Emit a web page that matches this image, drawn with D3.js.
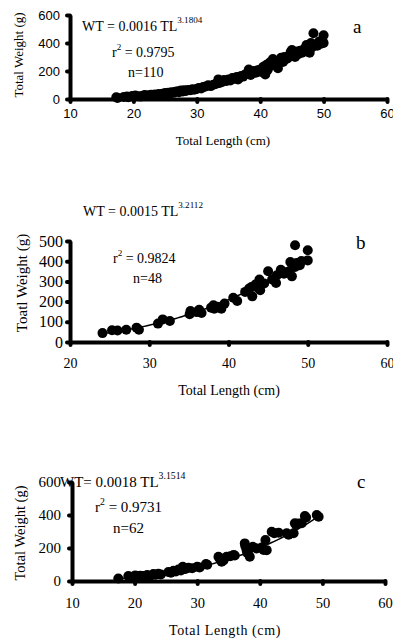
<!DOCTYPE html>
<html>
<head>
<meta charset="utf-8">
<script src="https://cdn.jsdelivr.net/npm/d3@7"></script>
<style>
  body { margin: 0; background: #fff; }
  svg { display: block; }
  text { fill: #000; }
</style>
</head>
<body>
<div id="chart"></div>
<script>
// panel a
const lengthA = [17.3,17.5,18.5,19.0,19.2,19.8,20.0,20.3,20.8,21.2,
  21.5,21.8,22.0,22.4,22.8,23.0,23.4,23.8,24.0,24.3,
  24.6,25.0,25.2,25.5,25.8,26.0,26.3,26.6,27.0,27.2,
  27.5,27.8,28.0,28.3,28.6,29.0,29.3,29.6,30.0,30.3,
  30.7,31.0,31.4,31.8,32.2,32.6,33.0,33.4,33.6,34.0,
  34.3,34.7,35.0,35.3,35.6,36.0,36.3,36.7,37.0,37.3,
  37.6,38.0,38.2,38.5,38.7,39.0,39.3,39.6,40.0,40.2,
  40.5,40.8,41.0,41.2,41.5,41.8,42.0,42.3,42.6,42.8,
  43.0,43.3,43.6,43.8,44.0,44.3,44.6,45.0,45.2,45.5,
  45.8,46.0,46.3,46.6,47.0,47.3,47.5,47.8,48.0,48.2,
  48.4,48.6,49.0,49.3,49.6,50.0,50.0,49.8,44.8,36.5];
const weightA = [12,8,15,18,12,22,16,25,20,18,
  24,28,22,26,30,25,32,28,35,30,
  38,42,36,45,40,48,44,52,55,48,
  60,54,62,58,65,62,70,66,72,78,
  75,85,90,98,92,102,108,140,115,122,
  135,128,140,132,150,145,158,152,165,160,
  175,182,210,172,195,200,188,205,195,215,
  230,175,245,210,260,240,285,270,250,220,
  275,295,265,300,285,290,310,350,325,300,
  340,320,345,330,360,385,355,330,400,370,
  470,390,380,410,395,455,400,420,335,140];

// panel b
const lengthB = [24.1,25.3,26.0,27.1,28.4,28.7,31.1,31.7,32.6,37.8,
  35.1,35.2,36.0,36.3,36.6,38.1,38.2,38.6,39.1,39.5,
  40.6,41.1,42.1,42.6,42.9,43.0,43.4,43.7,43.9,44.0,
  44.5,45.0,45.5,46.0,46.1,46.6,47.0,47.2,47.7,48.0,
  47.8,48.4,48.6,49.0,49.2,48.4,50.0,50.0];
const weightB = [44,58,57,61,71,61,91,112,104,170,
  137,153,148,160,144,182,165,175,165,190,
  219,203,248,265,272,226,285,269,309,256,
  290,350,309,292,330,358,338,345,351,325,
  396,479,391,380,401,371,404,454];

// panel c
const lengthC = [17.4,19.0,19.5,20.1,20.5,20.9,21.4,22.0,22.5,23.0,
  23.3,23.8,24.2,25.4,25.8,26.2,26.6,27.0,27.4,27.7,
  28.2,28.6,29.2,30.0,30.4,31.4,31.6,33.4,33.6,33.9,
  34.7,35.3,35.8,36.0,37.6,37.7,37.9,38.2,38.4,38.9,
  39.5,40.3,40.6,40.9,41.1,41.9,42.3,43.0,44.3,44.6,
  45.4,45.6,45.8,46.2,46.7,47.2,47.4,49.1,49.4,38.0,34.2,27.9];
const weightC = [15,30,25,34,28,32,30,36,32,42,
  38,44,40,55,50,62,58,70,64,86,
  75,80,78,86,82,103,98,147,135,117,
  147,150,157,155,228,210,187,188,147,207,
  197,203,188,248,187,299,290,293,289,280,
  289,350,340,348,350,394,385,400,389,170,125,72];

// fitted equations WT = a * TL^b
const coefA = [0.0016, 3.1804];
const coefB = [0.0015, 3.2112];
const coefC = [0.0018, 3.1514];

const ticksXA = [10, 20, 30, 40, 50, 60];
const ticksYA = [0, 200, 400, 600];
const ticksXB = [20, 30, 40, 50, 60];
const ticksYB = [0, 100, 200, 300, 400, 500];
const ticksXC = [10, 20, 30, 40, 50, 60];
const ticksYC = [0, 200, 400, 600];

const serif = '"Liberation Serif", "Times New Roman", serif';
const sans = '"Liberation Sans", Arial, sans-serif';

const svg = d3.select('#chart').append('svg')
  .attr('width', 393)
  .attr('height', 641);

function drawPanel(p) {
  const x = d3.scaleLinear().domain([p.xTicks[0], p.xTicks[p.xTicks.length - 1]]).range([p.left, p.right]);
  const y = d3.scaleLinear().domain([0, p.yTicks[p.yTicks.length - 1]]).range([p.bottom, p.top]);
  const g = svg.append('g');

  // x axis
  const ax = g.append('g')
    .attr('transform', 'translate(0,' + p.bottom + ')')
    .call(d3.axisBottom(x).tickValues(p.xTicks).tickSize(3).tickSizeOuter(0).tickPadding(p.xPad));
  // y axis
  const ay = g.append('g')
    .attr('transform', 'translate(' + p.left + ',0)')
    .call(d3.axisLeft(y).tickValues(p.yTicks).tickSize(3).tickSizeOuter(0).tickPadding(p.yPad));

  [ax, ay].forEach(a => {
    a.select('.domain').attr('stroke', '#000').attr('stroke-width', 4);
    a.selectAll('.tick line').attr('stroke', '#000').attr('stroke-width', 4).attr('stroke-linecap', 'round');
  });
  ax.selectAll('.tick text').attr('font-family', p.xFont).attr('font-size', p.xFs);
  ay.selectAll('.tick text').attr('font-family', p.yFont).attr('font-size', p.yFs);

  // trend line
  const lo = d3.min(p.lengths), hi = d3.max(p.lengths);
  const curve = d3.range(lo, hi + 0.01, 0.25).map(l => [l, p.coef[0] * Math.pow(l, p.coef[1])]);
  g.append('path')
    .datum(curve)
    .attr('fill', 'none')
    .attr('stroke', '#000')
    .attr('stroke-width', 1.5)
    .attr('d', d3.line().x(d => x(d[0])).y(d => y(d[1])));

  g.selectAll('circle')
    .data(p.lengths.map((l, i) => [l, p.weights[i]]))
    .enter().append('circle')
    .attr('cx', d => x(d[0]))
    .attr('cy', d => y(d[1]))
    .attr('r', 5)
    .attr('fill', '#000');

  // equation
  const eq = g.append('text')
    .attr('x', p.eq[0]).attr('y', p.eq[1])
    .attr('font-family', serif).attr('font-size', p.eqFs);
  eq.append('tspan').text(p.eqText);
  eq.append('tspan').attr('dy', -8).attr('font-size', p.eqFs * 0.65).text(p.coef[1].toFixed(4));

  const r = g.append('text')
    .attr('x', p.r2[0]).attr('y', p.r2[1])
    .attr('font-family', serif).attr('font-size', p.eqFs);
  r.append('tspan').text('r');
  r.append('tspan').attr('dy', -7).attr('font-size', p.eqFs * 0.65).text('2');
  r.append('tspan').attr('dy', 7).text(' = ' + p.r2Text);

  g.append('text')
    .attr('x', p.n[0]).attr('y', p.n[1])
    .attr('font-family', serif).attr('font-size', p.eqFs)
    .text(p.nText);

  g.append('text')
    .attr('x', p.tag[0]).attr('y', p.tag[1])
    .attr('font-family', serif).attr('font-size', 19)
    .text(p.tagText);

  g.append('text')
    .attr('x', p.xTitle[0]).attr('y', p.xTitle[1])
    .attr('text-anchor', 'middle')
    .attr('font-family', serif).attr('font-size', p.xTitleFs)
    .attr('letter-spacing', p.xTitleLs || 0)
    .text('Total Length (cm)');

  g.append('text')
    .attr('transform', 'translate(' + p.yTitle[0] + ',' + p.yTitle[1] + ') rotate(-90)')
    .attr('text-anchor', 'middle')
    .attr('dominant-baseline', 'central')
    .attr('font-family', serif).attr('font-size', p.yTitleFs)
    .text(p.yTitleText);
}

drawPanel({
  lengths: lengthA, weights: weightA, coef: coefA,
  xTicks: ticksXA, yTicks: ticksYA,
  left: 70, right: 387, top: 15, bottom: 99,
  xPad: 7, yPad: 7, xFont: sans, xFs: 13, yFont: sans, yFs: 13,
  eq: [82, 31], eqFs: 14, eqText: 'WT = 0.0016 TL',
  r2: [112, 57], r2Text: '0.9795',
  n: [128, 77], nText: 'n=110',
  tag: [353, 33], tagText: 'a',
  xTitle: [223, 145], xTitleFs: 13,
  yTitle: [18, 55], yTitleFs: 13, yTitleText: 'Total Weight (g)'
});

drawPanel({
  lengths: lengthB, weights: weightB, coef: coefB,
  xTicks: ticksXB, yTicks: ticksYB,
  left: 70, right: 387, top: 241, bottom: 342,
  xPad: 13, yPad: 4, xFont: serif, xFs: 14, yFont: serif, yFs: 16,
  eq: [83, 216], eqFs: 14, eqText: 'WT = 0.0015 TL',
  r2: [113, 263], r2Text: '0.9824',
  n: [133, 283], nText: 'n=48',
  tag: [356, 249], tagText: 'b',
  xTitle: [229, 395], xTitleFs: 14,
  yTitle: [22, 283], yTitleFs: 15, yTitleText: 'Toatl Weight (g)'
});

drawPanel({
  lengths: lengthC, weights: weightC, coef: coefC,
  xTicks: ticksXC, yTicks: ticksYC,
  left: 72, right: 385, top: 482, bottom: 581,
  xPad: 14, yPad: 8, xFont: serif, xFs: 14.5, yFont: serif, yFs: 15,
  eq: [60, 487], eqFs: 15, eqText: 'WT= 0.0018 TL',
  r2: [95, 512], r2Text: '0.9731',
  n: [113, 533], nText: 'n=62',
  tag: [357, 488], tagText: 'c',
  xTitle: [225, 635], xTitleFs: 14, xTitleLs: 0.6,
  yTitle: [20, 533], yTitleFs: 14.5, yTitleText: 'Total Weight (g)'
});
</script>
</body>
</html>
